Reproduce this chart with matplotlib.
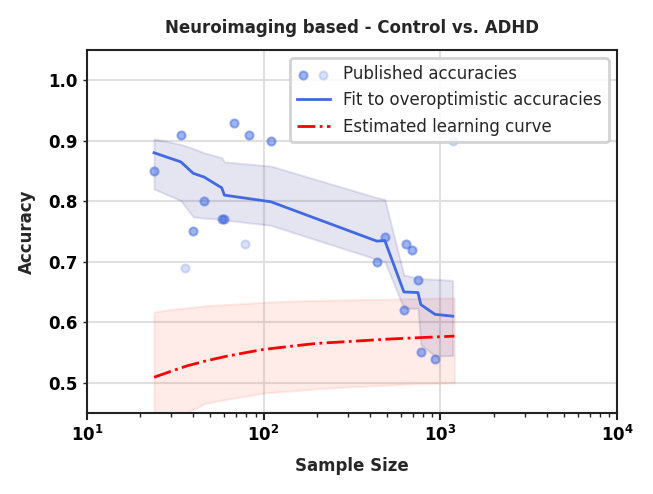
import numpy as np
import matplotlib
matplotlib.use('Agg')
import matplotlib.pyplot as plt
from matplotlib.legend_handler import HandlerTuple

# Published accuracies (overoptimistic, shown darker)
pub_n = [24, 34, 40, 46, 58, 60, 68, 83, 110, 437, 485, 622, 638, 691, 747, 776, 933]
pub_acc = [0.85, 0.91, 0.75, 0.80, 0.77, 0.77, 0.93, 0.91, 0.90, 0.70, 0.74, 0.62, 0.73, 0.72, 0.67, 0.55, 0.54]

# Published accuracies (shown faint)
faint_n = [36, 78, 1175]
faint_acc = [0.69, 0.73, 0.90]

# Fit to overoptimistic accuracies with band
fit_n = [24, 34, 40, 46, 58, 60, 110, 437, 485, 622, 747, 776, 933, 1175]
fit_acc = [0.880, 0.865, 0.846, 0.840, 0.822, 0.810, 0.799, 0.734, 0.735, 0.650, 0.649, 0.629, 0.613, 0.610]
fit_hi = [0.903, 0.894, 0.887, 0.880, 0.872, 0.865, 0.858, 0.806, 0.803, 0.678, 0.673, 0.672, 0.671, 0.669]
fit_lo = [0.820, 0.801, 0.774, 0.772, 0.770, 0.769, 0.760, 0.704, 0.700, 0.623, 0.623, 0.563, 0.544, 0.545]

# Estimated learning curve with band
lc_n = [24, 30, 37, 47, 60, 80, 100, 150, 200, 300, 500, 700, 1000, 1200]
lc_acc = [0.509, 0.519, 0.528, 0.536, 0.543, 0.550, 0.555, 0.561, 0.565, 0.568, 0.572, 0.574, 0.576, 0.577]
lc_hi = [0.617, 0.621, 0.624, 0.627, 0.629, 0.631, 0.633, 0.635, 0.636, 0.637, 0.638, 0.639, 0.640, 0.640]
lc_lo = [0.300, 0.400, 0.451, 0.466, 0.472, 0.478, 0.483, 0.487, 0.490, 0.493, 0.496, 0.498, 0.499, 0.500]

fig = plt.figure(figsize=(6.53, 4.94), dpi=100)
ax = fig.add_axes([0.133, 0.164, 0.812, 0.735])

ax.grid(True, which='major', color='#e0e0e0', linewidth=1.5, zorder=0)
ax.set_axisbelow(True)

ax.fill_between(lc_n, lc_lo, lc_hi, color='tomato', alpha=0.12, linewidth=1.5, zorder=1)
ax.fill_between(fit_n, fit_lo, fit_hi, color='navy', alpha=0.1, linewidth=1.5, zorder=1)

sc1 = ax.scatter(pub_n, pub_acc, s=34, color='royalblue', alpha=0.5, linewidths=1.5, zorder=3)
sc2 = ax.scatter(faint_n, faint_acc, s=34, color='royalblue', alpha=0.2, linewidths=1.5, zorder=3)
ln1, = ax.plot(fit_n, fit_acc, color='royalblue', linewidth=2, zorder=4)
ln2, = ax.plot(lc_n, lc_acc, color='red', linestyle='-.', linewidth=2, zorder=4)

ax.set_xscale('log')
ax.set_xlim(10, 1e4)
ax.set_ylim(0.45, 1.05)
ax.set_yticks([0.5, 0.6, 0.7, 0.8, 0.9, 1.0])

for s in ax.spines.values():
    s.set_color('#222222')
    s.set_linewidth(1.5)
ax.tick_params(axis='both', which='major', labelsize=12, width=1.5, length=5, color='#222222')
ax.tick_params(axis='x', which='minor', width=1, length=3, color='#222222')
ax.tick_params(axis='y', which='major', length=3, width=1)
for lbl in ax.get_xticklabels() + ax.get_yticklabels():
    lbl.set_fontweight('bold')

ax.set_xlabel('Sample Size', fontsize=12, fontweight='bold', color='#262626', labelpad=9)
ax.set_ylabel('Accuracy', fontsize=12, fontweight='bold', color='#262626', labelpad=9)
ax.set_title('Neuroimaging based - Control vs. ADHD', fontsize=12, fontweight='bold', color='#262626', pad=12)

leg = ax.legend([(sc1, sc2), ln1, ln2],
                ['Published accuracies', 'Fit to overoptimistic accuracies', 'Estimated learning curve'],
                handler_map={tuple: HandlerTuple(ndivide=None)},
                loc='upper right', fontsize=12, framealpha=0.85, edgecolor='#cccccc',
                borderpad=0.4, handlelength=2.0, labelspacing=0.5)
leg.get_frame().set_linewidth(2)
for t in leg.get_texts():
    t.set_color('#262626')

fig.savefig('out.png', dpi=100)
